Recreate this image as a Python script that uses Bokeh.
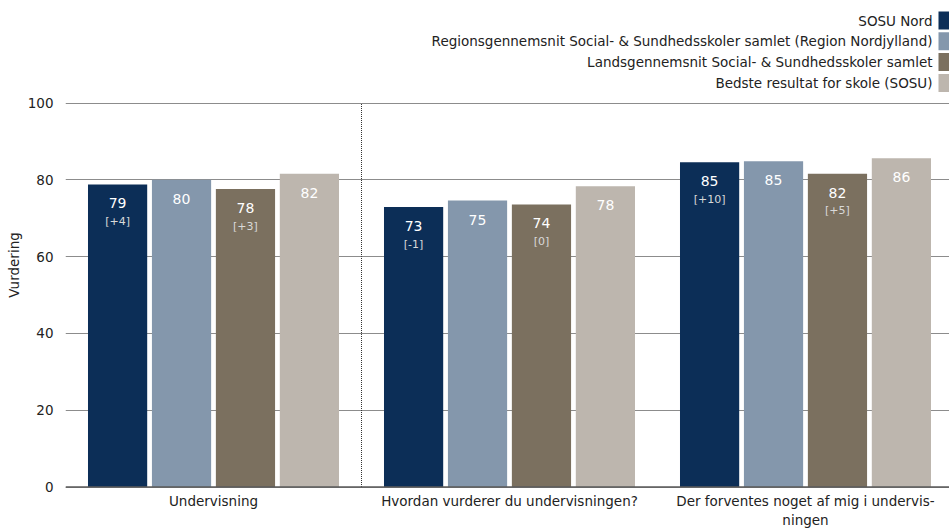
from bokeh.plotting import figure
from bokeh.models import ColumnDataSource, Range1d, FixedTicker, Span
from bokeh.core.properties import value
from bokeh.embed import file_html
from bokeh.resources import INLINE

# ---- data ----
categories = ["Undervisning", "Hvordan vurderer du undervisningen?",
              "Der forventes noget af mig i undervisningen"]
tick_labels = ["Undervisning", "Hvordan vurderer du undervisningen?",
               "Der forventes noget af mig i undervis-\nningen"]
series_names = ["SOSU Nord",
                "Regionsgennemsnit Social- & Sundhedsskoler samlet (Region Nordjylland)",
                "Landsgennemsnit Social- & Sundhedsskoler samlet",
                "Bedste resultat for skole (SOSU)"]
sosu_nord = [78.8, 72.9, 84.6]
region = [80.0, 74.6, 84.8]
lands = [77.6, 73.6, 81.6]
bedste = [81.6, 78.3, 85.6]
sosu_delta = ["[+4]", "[-1]", "[+10]"]
lands_delta = ["[+3]", "[0]", "[+5]"]
y_ticks = [0, 20, 40, 60, 80, 100]

colors = ["#0c2e57", "#8497ac", "#7b705f", "#bdb6ae"]
FONT = "DejaVu Sans"
FS = "13.5px"

W, H = 949, 529
LEFT = 65
frame_w = W - LEFT
px_per_x = 296.0
x_end = frame_w / px_per_x
px_per_y = 3.84
y0_canvas = 486.5
y_top = y0_canvas / px_per_y
y_bot = -(H - y0_canvas) / px_per_y

p = figure(width=W, height=H, output_backend="svg", toolbar_location=None,
           x_range=Range1d(0, x_end), y_range=Range1d(y_bot, y_top),
           min_border_left=LEFT, min_border_bottom=0,
           min_border_top=0, min_border_right=0)
p.outline_line_color = None
p.background_fill_color = "white"
p.xaxis.visible = False

series = [sosu_nord, region, lands, bedste]
deltas = [sosu_delta, None, lands_delta, None]
offsets = [-0.324, -0.108, 0.108, 0.324]
bar_w = 0.2

# grid
p.xgrid.visible = False
p.ygrid.ticker = FixedTicker(ticks=y_ticks)
p.ygrid.grid_line_color = "#8c8c8c"
p.ygrid.grid_line_width = 1

for vals, dl, off, col in zip(series, deltas, offsets, colors):
    xs = [i + 0.5 + off for i in range(len(categories))]
    src = ColumnDataSource(dict(x=xs, top=vals,
                                lab=[f"{v:.0f}" for v in vals],
                                d=dl if dl else [""] * len(vals)))
    p.vbar(x="x", top="top", bottom=0, width=bar_w, source=src,
           fill_color=col, line_color=None)
    p.text(x="x", y="top", text="lab", source=src, text_align="center",
           text_baseline="middle", y_offset=19, text_color="white",
           text_font_size="14px", text_font=value(FONT))
    if dl:
        p.text(x="x", y="top", text="d", source=src, text_align="center",
               text_baseline="middle", y_offset=37, text_color="#d9d9d9",
               text_font_size="11px", text_font=value(FONT))

# x axis baseline
p.add_layout(Span(location=0, dimension="width", line_color="#5a5a5a",
                  line_width=1.5))

# category labels under the baseline
csrc = ColumnDataSource(dict(x=[i + 0.5 for i in range(len(categories))],
                             y=[0] * len(categories), t=tick_labels))
p.text(x="x", y="y", text="t", source=csrc, text_align="center",
       text_baseline="top", y_offset=6, text_color="#222222",
       text_font_size=FS, text_font=value(FONT), text_line_height=1.2)

# dotted separator between first and second category
p.segment(x0=[1], y0=[0], x1=[1], y1=[y_ticks[-1]], line_color="#333333",
          line_dash="1 1", line_width=1)

# legend (drawn at the top right, swatch on the right of the text)
leg_y = [y_top - 20 / px_per_y - k * 20.8 / px_per_y for k in range(4)]
text_x = x_end - 17 / px_per_x
sw_x = x_end - 5.5 / px_per_x
lsrc = ColumnDataSource(dict(x=[text_x] * 4, sx=[sw_x] * 4, y=leg_y,
                             name=series_names, c=colors))
p.rect(x="sx", y="y", width=11 / px_per_x, height=18 / px_per_y,
       source=lsrc, fill_color="c", line_color=None)
p.text(x="x", y="y", text="name", source=lsrc, text_align="right",
       text_baseline="middle", text_color="#222222", text_font_size=FS,
       text_font=value(FONT))

# y axis
p.yaxis.ticker = FixedTicker(ticks=y_ticks)
p.yaxis.major_tick_line_color = None
p.yaxis.minor_tick_line_color = None
p.yaxis.major_tick_out = 0
p.yaxis.major_tick_in = 0
p.yaxis.minor_tick_out = 0
p.yaxis.axis_line_color = None
p.yaxis.major_label_standoff = 12
p.yaxis.major_label_text_font = FONT
p.yaxis.major_label_text_font_size = FS
p.yaxis.major_label_text_color = "#222222"
p.yaxis.axis_label = "Vurdering"
p.yaxis.axis_label_text_font = FONT
p.yaxis.axis_label_text_font_size = FS
p.yaxis.axis_label_text_font_style = "normal"
p.yaxis.axis_label_text_color = "#222222"
p.yaxis.axis_label_standoff = 3

open("out.html", "w").write(file_html(p, INLINE))
